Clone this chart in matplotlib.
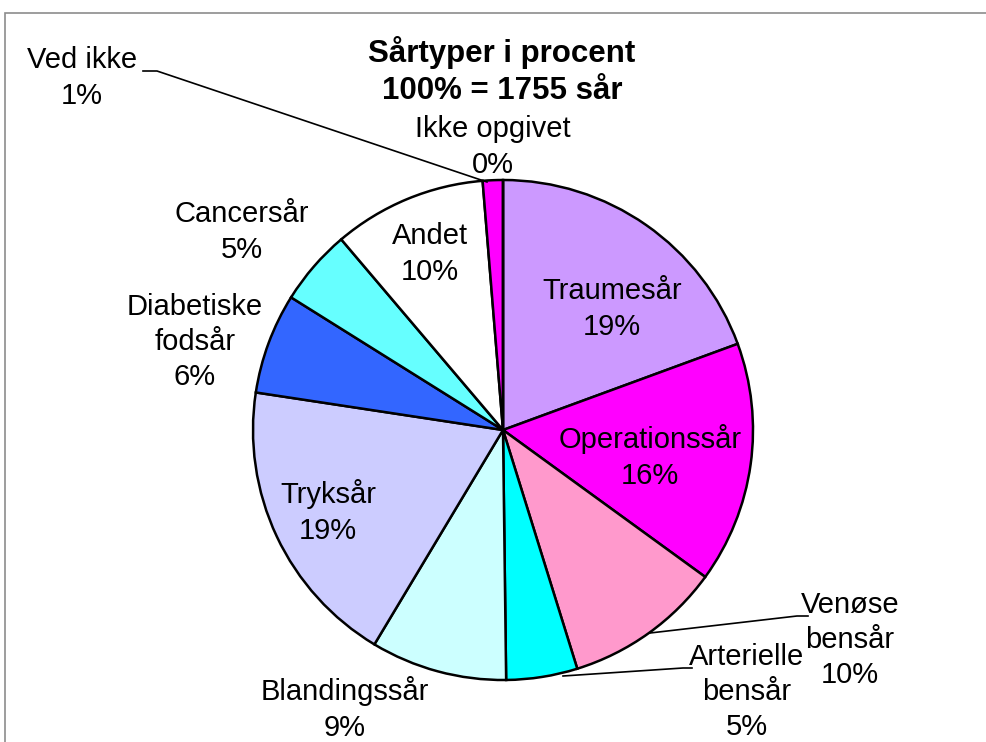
import matplotlib
matplotlib.use('Agg')
import matplotlib.pyplot as plt
from matplotlib.patches import Rectangle

# wound types, clockwise from 12 o'clock
categories = ['Traumesår', 'Operationssår', 'Venøse\nbensår', 'Arterielle\nbensår',
              'Blandingssår', 'Tryksår', 'Diabetiske\nfodsår', 'Cancersår',
              'Andet', 'Ved ikke', 'Ikke opgivet']
shares = [19.4, 15.6, 10.2, 4.6, 8.8, 18.8, 6.5, 4.9, 9.9, 1.3, 0.0]
pct_labels = [19, 16, 10, 5, 9, 19, 6, 5, 10, 1, 0]
colors = ['#CC99FF', '#FF00FF', '#FF99CC', '#00FFFF', '#CCFFFF', '#CCCCFF',
          '#3366FF', '#66FFFF', '#FFFFFF', '#FF00FF', '#9999FF']

W, H = 987, 742
plt.rcParams['font.family'] = ['Liberation Sans', 'DejaVu Sans']

fig = plt.figure(figsize=(W / 100, H / 100), dpi=100)
ax = fig.add_axes([0, 0, 1, 1])

def yy(y):
    # image row -> data y
    return H - y

ax.pie(shares, colors=colors, startangle=90, counterclock=False,
       center=(503, yy(430)), radius=250, frame=True,
       wedgeprops=dict(edgecolor='black', linewidth=1.8))
ax.set_xlim(0, W)
ax.set_ylim(0, H)
ax.axis('off')

# chart frame (only top and left edges are visible)
ax.add_patch(Rectangle((5, yy(800)), 1100, 787, fill=False, edgecolor='#8c8c8c',
                       linewidth=1.2, clip_on=False))

# label placement (text block centres, image pixels)
label_xy = [(612, 309), (650, 457), (850, 640), (747, 692), (345, 709),
            (328, 512), (195, 342), (242, 232), (430, 254), (82, 78), (493, 147)]
for name, p, (x, y) in zip(categories, pct_labels, label_xy):
    ax.text(x, yy(y), '%s\n%d%%' % (name, p), ha='center', va='center',
            fontsize=21, linespacing=1.32)

# leader lines
ax.plot([143, 157, 487], [yy(71), yy(71), yy(182)], color='black', lw=1.2)
ax.plot([650, 797, 808], [yy(633), yy(616), yy(616)], color='black', lw=1.2)
ax.plot([563, 683, 692], [yy(676), yy(668), yy(668)], color='black', lw=1.2)

ax.text(502, yy(71), 'Sårtyper i procent\n100% = 1755 sår', ha='center', va='center',
        fontsize=22.5, fontweight='bold', linespacing=1.3)

fig.savefig('out.png', dpi=100)
